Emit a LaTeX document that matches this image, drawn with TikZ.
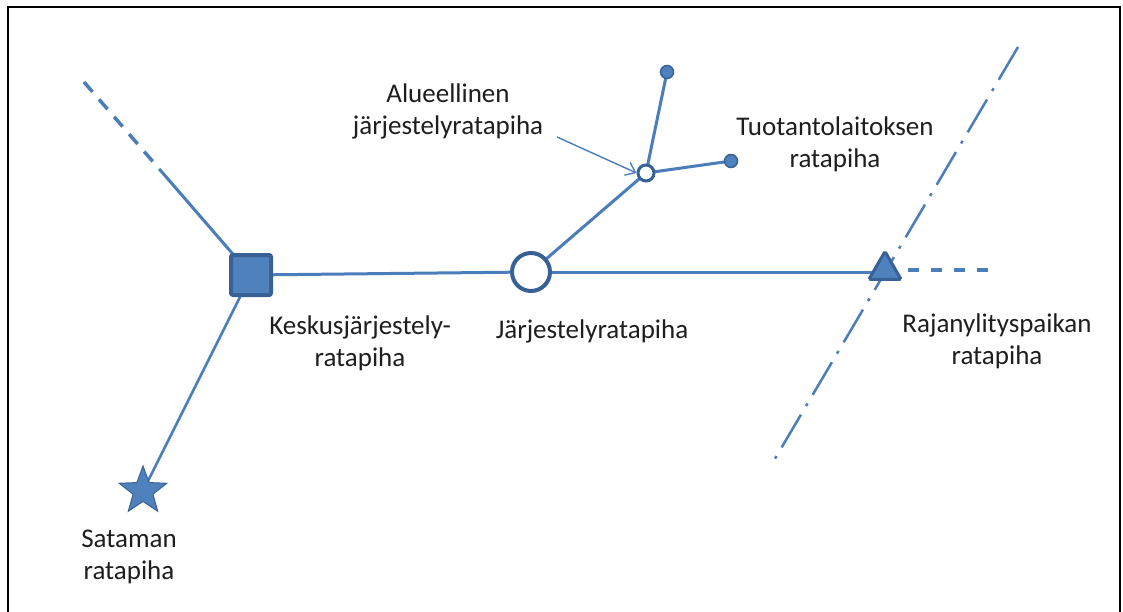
\documentclass[tikz,border=0pt]{standalone}
\usepackage{fontspec}
\setmainfont{Carlito}
\usetikzlibrary{shapes.geometric,arrows.meta,calc}
\definecolor{lineblue}{RGB}{74,125,186}
\definecolor{fillblue}{RGB}{79,129,189}
\definecolor{edgeblue}{RGB}{56,98,150}
\definecolor{txt}{RGB}{30,30,30}
\begin{document}
\begin{tikzpicture}[x=1pt,y=-1pt,
  track/.style={draw=lineblue,line width=3pt},
  lbl/.style={text=txt,align=center,font=\fontsize{27}{32}\selectfont,inner sep=0pt},
  sqnode/.style={draw=edgeblue,fill=fillblue,line width=4pt,minimum size=40pt,inner sep=0pt,rounded corners=2pt},
  bigcirc/.style={circle,draw=edgeblue,fill=white,line width=4pt,minimum size=38pt,inner sep=0pt},
  smallcirc/.style={circle,draw=edgeblue,fill=white,line width=3pt,minimum size=16pt,inner sep=0pt},
  dotnode/.style={circle,draw=edgeblue,fill=fillblue,line width=1.5pt,minimum size=13pt,inner sep=0pt},
  trinode/.style={regular polygon,regular polygon sides=3,draw=edgeblue,fill=fillblue,line width=3pt,minimum size=37pt,inner sep=0pt,rounded corners=1.5pt},
  starnode/.style={star,star points=5,star point ratio=2.4,draw=edgeblue,fill=fillblue,line width=1pt,minimum size=50pt,inner sep=0pt}
]
\useasboundingbox (0,0) rectangle (1123,612);
\fill[white] (0,0) rectangle (1123,612);
\draw[black,line width=2.5pt] (8,615) -- (8,7) -- (1120,7) -- (1120,615);

% coordinates
\coordinate (nwend) at (84,82);
\coordinate (sqc) at (251,275);
\coordinate (bcc) at (531,272);
\coordinate (scc) at (646,173);
\coordinate (trc) at (885,272);
\coordinate (stc) at (143,491);
\coordinate (nwmid) at ($(nwend)!0.45!(sqc)$);
\coordinate (hdashend) at (998,270);
\coordinate (ddtop) at (1018,47);
\coordinate (ddbot) at (773,462);
\coordinate (arrstart) at (557,137);

% lines behind nodes
\draw[track,line width=3.5pt,dash pattern=on 13pt off 10pt] (nwend) -- (nwmid);
\draw[track] (nwmid) -- (sqc);
\draw[track,line width=2.5pt] (sqc) -- (stc);
\draw[track] (sqc) -- (bcc);
\draw[track] (bcc) -- (trc);
\draw[track] (bcc) -- (scc);
\draw[track] (scc) -- (667,72);
\draw[track] (scc) -- (731,161);
\draw[lineblue,line width=3.5pt,dash pattern=on 11pt off 12pt] (trc)++(0,-2) -- (hdashend);
\draw[lineblue,line width=2.5pt,dash pattern=on 38pt off 10pt on 3pt off 10pt] (ddtop) -- (ddbot);

% nodes
\node[sqnode] (sq) at (sqc) {};
\node[bigcirc] (bc) at (bcc) {};
\node[smallcirc] (sc) at (scc) {};
\node[dotnode] (d1) at (667,72) {};
\node[dotnode] (d2) at (731,161) {};
\node[trinode] (tr) at (885,270) {};
\node[starnode] (st) at (stc) {};

% arrow
\draw[lineblue,line width=1.4pt,-{Straight Barb[length=9pt,width=14pt]}] (arrstart) -- (sc.west);

% labels
\node[lbl] (l1) at (448,111) {Alueellinen\\järjestelyratapiha};
\node[lbl] (l2) at (835,144) {Tuotantolaitoksen\\ratapiha};
\node[lbl] (l3) at (360,343) {Keskusjärjestely-\\ratapiha};
\node[lbl] (l4) at (592,331) {Järjestelyratapiha};
\node[lbl] (l5) at (997,341) {Rajanylityspaikan\\ratapiha};
\node[lbl] (l6) at (129,557) {Sataman\\ratapiha};
\end{tikzpicture}
\end{document}
